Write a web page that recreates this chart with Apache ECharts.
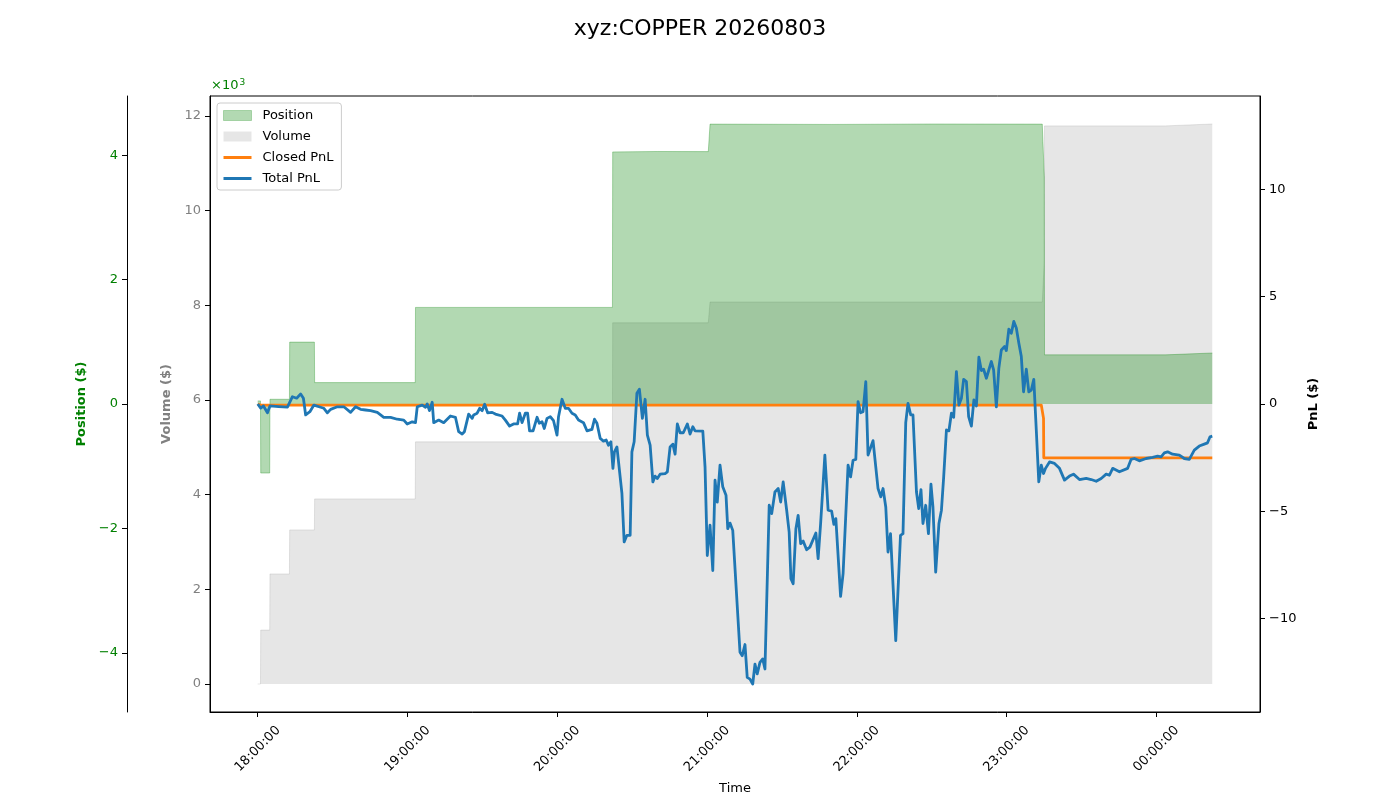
<!DOCTYPE html>
<html>
<head>
<meta charset="utf-8">
<title>xyz:COPPER 20260803</title>
<script src="https://cdn.jsdelivr.net/npm/echarts@6/dist/echarts.min.js"></script>
<style>
  html, body { margin: 0; padding: 0; background: #fff; }
  #chart { width: 1400px; height: 800px; }
</style>
</head>
<body>
<div id="chart"></div>
<script>
// times are minutes after 18:00:00
const totalPnl = [
  [0,0.00],[1.2,-0.19],[2.3,-0.09],[3.9,-0.41],[4.9,-0.09],[8.4,-0.12],[11.9,-0.15],[13.9,0.34],[15.6,0.27],[17.2,0.47],
  [18.3,0.27],[19.2,-0.51],[20.9,-0.36],[22.5,-0.05],[25.2,-0.15],[26.5,-0.20],[27.9,-0.41],[29.2,-0.25],[31.9,-0.13],[34.5,-0.13],
  [37.2,-0.39],[39.2,-0.13],[41.2,-0.25],[43.2,-0.28],[45.2,-0.31],[47.9,-0.39],[50.5,-0.62],[53.2,-0.62],[55.9,-0.71],[58.5,-0.75],
  [59.9,-0.93],[61.9,-0.83],[63.2,-0.87],[63.9,-0.13],[65.9,-0.05],[67.2,-0.15],[67.9,0.00],[68.8,-0.31],[69.9,0.08],[70.5,-0.87],
  [72.5,-0.75],[74.5,-0.87],[77.2,-0.56],[79.2,-0.62],[80.5,-1.29],[81.9,-1.40],[82.8,-1.29],[84.5,-0.47],[85.9,-0.67],[86.5,-0.51],
  [87.9,-0.43],[88.9,-0.20],[89.9,-0.31],[90.9,-0.01],[92.1,-0.41],[93.9,-0.39],[95.2,-0.47],[97.9,-0.56],[99.2,-0.75],[100.9,-1.03],
  [102.5,-0.93],[104.1,-0.93],[104.9,-0.43],[105.9,-0.87],[107.2,-0.43],[108.1,-0.43],[108.9,-1.25],[110.3,-1.25],[111.9,-0.62],[112.8,-0.90],
  [113.9,-0.83],[114.8,-1.14],[115.9,-0.67],[117.2,-0.59],[118.5,-0.78],[119.9,-1.45],[120.5,-0.59],[121.9,0.22],[123.2,-0.20],[124.5,-0.20],
  [125.9,-0.43],[127.2,-0.51],[128.5,-0.75],[130.5,-0.87],[131.9,-1.25],[133.9,-1.18],[134.9,-0.71],[135.9,-0.90],[137.2,-1.60],[138.5,-1.73],
  [139.6,-1.68],[140.5,-1.92],[141.5,-1.76],[142.3,-3.00],[142.9,-2.23],[143.9,-2.00],[145.9,-4.17],[146.8,-6.43],[147.9,-6.12],[149.2,-6.12],
  [149.9,-2.23],[150.8,-1.76],[151.9,0.50],[152.9,0.69],[154.1,-0.67],[155.2,0.22],[156.1,-1.45],[157.2,-1.92],[158.3,-3.63],[159.2,-3.36],
  [160.1,-3.47],[161.2,-3.27],[163.2,-3.24],[164.1,-3.16],[165.2,-2.00],[166.3,-1.87],[167.2,-2.34],[168.1,-0.93],[169.2,-1.34],[170.5,-1.34],
  [171.2,-1.37],[172.1,-0.93],[173.2,-1.40],[174.3,-1.06],[175.2,-1.25],[178.3,-1.26],[179.2,-2.93],[180.1,-7.06],[181.2,-5.65],[182.3,-7.76],
  [183.2,-3.55],[184.1,-4.57],[185.2,-2.85],[186.3,-3.86],[187.6,-4.25],[188.3,-5.81],[189.2,-5.55],[190.3,-5.89],[193.2,-11.57],[194.1,-11.73],
  [195.2,-11.21],[196.1,-12.74],[197.2,-12.82],[198.3,-13.05],[199.2,-12.12],[200.1,-12.58],[201.2,-12.04],[202.3,-11.88],[203.2,-12.35],[204.9,-4.72],
  [205.9,-5.11],[207.2,-4.10],[208.5,-3.94],[209.5,-4.57],[210.5,-3.63],[211.9,-4.95],[212.9,-5.97],[213.6,-8.14],[214.5,-8.38],[215.6,-5.81],
  [216.5,-5.19],[217.5,-6.51],[218.5,-6.39],[219.9,-6.79],[221.2,-6.67],[223.6,-6.01],[224.5,-7.21],[225.5,-5.57],[226.5,-3.71],[227.2,-2.38],
  [228.5,-4.95],[229.9,-4.99],[230.8,-5.61],[231.6,-5.34],[233.5,-8.97],[234.5,-7.91],[236.5,-2.85],[237.5,-3.40],[238.5,-2.62],[239.6,-2.58],
  [240.5,0.11],[241.5,-0.41],[242.5,-0.36],[243.6,1.04],[244.5,-2.38],[246.5,-1.71],[248.5,-3.94],[249.6,-4.33],[250.5,-3.94],[251.6,-4.80],
  [252.5,-6.90],[253.5,-6.04],[255.6,-11.03],[257.5,-6.12],[258.5,-6.04],[259.6,-0.87],[260.5,0.03],[261.6,-0.51],[262.5,-0.51],[263.9,-4.10],
  [264.8,-4.87],[265.7,-3.99],[266.5,-5.57],[267.6,-4.72],[268.7,-6.04],[269.7,-3.74],[270.5,-4.80],[271.6,-7.84],[272.9,-5.57],[273.9,-4.95],
  [274.8,-3.40],[275.9,-1.21],[276.9,-1.25],[277.9,-0.43],[278.8,-0.62],[279.9,1.51],[280.9,-0.05],[281.9,0.27],[282.8,1.15],[283.9,1.04],
  [284.8,-0.59],[285.9,-1.03],[286.9,0.19],[287.9,-0.09],[288.9,2.18],[289.9,1.56],[290.8,1.62],[291.9,1.20],[293.9,1.98],[294.8,1.59],
  [295.9,-0.13],[296.9,1.67],[297.9,2.52],[299.2,2.68],[299.9,2.49],[300.9,3.49],[301.9,3.30],[302.9,3.85],[303.9,3.54],[304.9,2.84],
  [305.9,2.21],[306.8,0.57],[307.9,1.62],[308.9,0.57],[309.9,0.65],[310.9,1.15],[311.9,-1.21],[312.9,-3.63],[313.9,-2.85],[314.8,-3.24],
  [315.6,-3.00],[317.2,-2.70],[319.2,-2.77],[321.2,-3.00],[323.2,-3.55],[325.2,-3.36],[326.8,-3.27],[329.2,-3.52],[331.9,-3.47],[333.9,-3.52],
  [335.9,-3.60],[337.9,-3.47],[339.9,-3.27],[341.2,-3.32],[342.5,-3.00],[345.2,-3.16],[348.5,-3.00],[349.9,-2.58],[351.2,-2.54],[353.2,-2.65],
  [355.9,-2.54],[358.5,-2.49],[360.5,-2.43],[361.9,-2.46],[363.2,-2.28],[364.5,-2.23],[366.5,-2.34],[369.2,-2.38],[371.2,-2.54],[373.2,-2.58],
  [375.2,-2.15],[377.2,-1.96],[379.2,-1.87],[380.5,-1.81],[381.5,-1.53],[382.4,-1.50]
];

const closedPnl = [
  [0,0],[1.2,-0.05],[313.9,-0.05],[314.8,-0.67],[314.9,-2.51],[382.4,-2.51]
];

const positionUsd = [
  [0,50],[1.1,50],[1.2,-1110],[4.8,-1110],[4.9,76],[12.7,76],[12.8,995],[22.7,995],[22.8,344],[63.1,344],
  [63.2,1553],[142.1,1553],[142.2,4053],[160,4060],[180.5,4058],[181.2,4500],[230,4495],[270,4502],[314.3,4500],[315.1,3650],
  [315.2,790],[363.5,790],[363.6,820],[382.4,820]
];

const volumeUsd = [
  [0,0],[1.1,0],[1.2,1140],[4.8,1140],[4.9,2325],[12.7,2325],[12.8,3255],[22.7,3255],[22.8,3910],[63.1,3910],
  [63.2,5115],[142.1,5115],[142.2,7630],[180.5,7630],[181.2,8070],[314.3,8070],[315.1,8920],[315.2,11790],[363.5,11790],[363.6,11830],
  [382.4,11830]
];

const timeTicks = [0, 60, 120, 180, 240, 300, 360];
const positionTicks = [-4000, -2000, 0, 2000, 4000];
const volumeTicks = [0, 2000, 4000, 6000, 8000, 10000, 12000];
const pnlTicks = [-10, -5, 0, 5, 10];

const FONT = 'DejaVu Sans';
const minus = v => (v < 0 ? '\u2212' + Math.abs(v) : String(v));
const pad2 = n => (n < 10 ? '0' : '') + n;
const fmtTime = t => pad2((18 + Math.floor(t / 60)) % 24) + ':' + pad2(Math.round(t % 60)) + ':00';

// matplotlib-like limits
const tEnd = Math.max(...totalPnl.map(d => d[0]));
const xPad = tEnd * 0.05;
const posLim = 1.1 * Math.max(...positionUsd.map(d => Math.abs(d[1])));
const pnlLim = 1.1 * Math.max(...totalPnl.concat(closedPnl).map(d => Math.abs(d[1])));
const volMax = Math.max(...volumeUsd.map(d => d[1]));

const tick = { show: true, length: 5, lineStyle: { color: '#000', width: 1 } };
const line = { show: true, onZero: false, lineStyle: { color: '#000', width: 1 } };

const option = {
  animation: false,
  backgroundColor: '#fff',
  title: {
    text: 'xyz:COPPER 20260803',
    left: 'center',
    top: 13,
    textStyle: { fontFamily: FONT, fontSize: 22, fontWeight: 'normal', color: '#000' }
  },
  grid: {
    left: 210, top: 96, width: 1050, height: 616,
    outerBoundsMode: 'none',
    containLabel: false,
    show: true, borderColor: '#000', borderWidth: 1, backgroundColor: 'transparent'
  },
  legend: {
    orient: 'vertical',
    left: 217,
    top: 103,
    itemWidth: 28,
    itemHeight: 10,
    itemGap: 8,
    padding: [6, 8, 5, 6],
    backgroundColor: 'rgba(255,255,255,0.8)',
    borderColor: '#ccc',
    borderWidth: 1,
    borderRadius: 3,
    textStyle: { fontFamily: FONT, fontSize: 13, color: '#000', padding: [0, 0, 0, 6] },
    data: [
      { name: 'Position', icon: 'rect', itemStyle: { color: 'rgba(0,128,0,0.3)', borderColor: 'rgba(0,128,0,0.25)', borderWidth: 1 } },
      { name: 'Volume', icon: 'rect', itemStyle: { color: 'rgba(128,128,128,0.2)', borderWidth: 0 } },
      { name: 'Closed PnL', icon: 'path://M0,0H28V3H0Z', itemStyle: { color: '#ff7f0e' } },
      { name: 'Total PnL', icon: 'path://M0,0H28V3H0Z', itemStyle: { color: '#1f77b4' } }
    ]
  },
  graphic: [
    {
      type: 'text', left: 211, top: 78,
      style: {
        text: '\u00d710{s|3}',
        fill: 'green',
        font: '13px "DejaVu Sans"',
        rich: { s: { fontSize: 9, fill: 'green', fontFamily: FONT, verticalAlign: 'top', padding: [0, 0, 6, 1] } }
      }
    }
  ],
  xAxis: {
    type: 'value',
    min: -xPad,
    max: tEnd + xPad,
    axisLine: line,
    axisTick: Object.assign({ customValues: timeTicks }, tick),
    axisLabel: {
      customValues: timeTicks, formatter: fmtTime, rotate: 45, align: 'center', verticalAlign: 'middle',
      margin: 37, color: '#000', fontFamily: FONT, fontSize: 13
    },
    splitLine: { show: false },
    name: 'Time', nameLocation: 'middle', nameGap: 70,
    nameTextStyle: { fontFamily: FONT, fontSize: 13, color: '#000' }
  },
  yAxis: [
    {
      type: 'value', position: 'left', offset: 83, min: -posLim, max: posLim,
      axisLine: line,
      axisTick: Object.assign({ customValues: positionTicks }, tick),
      axisLabel: { customValues: positionTicks, formatter: v => minus(v / 1000), color: 'green', fontFamily: FONT, fontSize: 13, margin: 9 },
      splitLine: { show: false },
      name: 'Position ($)', nameLocation: 'middle', nameGap: 38,
      nameTextStyle: { color: 'green', fontWeight: 'bold', fontFamily: FONT, fontSize: 13 }
    },
    {
      type: 'value', position: 'left', offset: 0, min: -0.05 * volMax, max: 1.05 * volMax,
      axisLine: line,
      axisTick: Object.assign({ customValues: volumeTicks }, tick),
      axisLabel: { customValues: volumeTicks, formatter: v => String(v / 1000), color: 'gray', fontFamily: FONT, fontSize: 13, margin: 9 },
      splitLine: { show: false },
      name: 'Volume ($)', nameLocation: 'middle', nameGap: 35,
      nameTextStyle: { color: 'gray', fontWeight: 'bold', fontFamily: FONT, fontSize: 13 }
    },
    {
      type: 'value', position: 'right', min: -pnlLim, max: pnlLim,
      axisLine: line,
      axisTick: Object.assign({ customValues: pnlTicks }, tick),
      axisLabel: { customValues: pnlTicks, formatter: minus, color: '#000', fontFamily: FONT, fontSize: 13, margin: 9 },
      splitLine: { show: false },
      name: 'PnL ($)', nameLocation: 'middle', nameGap: 44,
      nameTextStyle: { color: '#000', fontWeight: 'bold', fontFamily: FONT, fontSize: 13 }
    }
  ],
  series: [
    {
      name: 'Volume', type: 'line', yAxisIndex: 1, data: volumeUsd,
      symbol: 'none', showSymbol: false, z: 1,
      color: 'rgba(128,128,128,0.2)',
      lineStyle: { width: 1, color: 'rgba(128,128,128,0.2)' },
      areaStyle: { color: 'rgba(128,128,128,0.2)', opacity: 1 }
    },
    {
      name: 'Position', type: 'line', yAxisIndex: 0, data: positionUsd,
      symbol: 'none', showSymbol: false, z: 2,
      color: 'rgba(0,128,0,0.3)',
      lineStyle: { width: 1, color: 'rgba(0,128,0,0.3)' },
      areaStyle: { color: 'rgba(0,128,0,0.3)', opacity: 1 }
    },
    {
      name: 'Closed PnL', type: 'line', yAxisIndex: 2, data: closedPnl,
      symbol: 'none', showSymbol: false, z: 3,
      color: '#ff7f0e',
      lineStyle: { width: 2.8, color: '#ff7f0e', join: 'round' }
    },
    {
      name: 'Total PnL', type: 'line', yAxisIndex: 2, data: totalPnl,
      symbol: 'none', showSymbol: false, z: 4,
      color: '#1f77b4',
      lineStyle: { width: 2.8, color: '#1f77b4', join: 'round' }
    }
  ]
};

const chart = echarts.init(document.getElementById('chart'));
chart.setOption(option);
window.onresize = function () {
  chart.resize();
};
</script>
</body>
</html>
